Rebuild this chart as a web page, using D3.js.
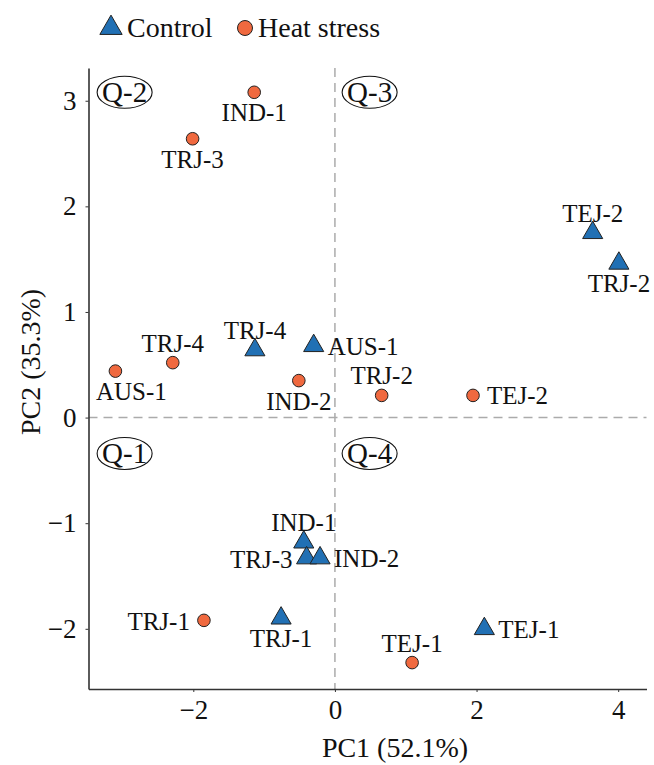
<!DOCTYPE html>
<html>
<head>
<meta charset="utf-8">
<script src="https://cdn.jsdelivr.net/npm/d3@7"></script>
<style>
  body { margin: 0; background: #fff; }
  text { font-family: "Liberation Serif", "Times New Roman", serif; fill: #111; }
</style>
</head>
<body>
<div id="chart"></div>
<script>
// PCA scores
var groups = ["Control", "Heat stress"];

var controlNames = ["TEJ-2", "TRJ-2", "TRJ-4", "AUS-1", "IND-1", "TRJ-3", "IND-2", "TRJ-1", "TEJ-1"];
var controlPC1 = [3.64, 4.01, -1.13, -0.30, -0.44, -0.40, -0.21, -0.76, 2.11];
var controlPC2 = [1.75, 1.46, 0.64, 0.68, -1.18, -1.33, -1.33, -1.90, -2.00];
var controlLabelPos = ["above", "below", "above", "right", "above", "left", "right", "below", "right"];

var heatNames = ["IND-1", "TRJ-3", "TRJ-4", "AUS-1", "IND-2", "TRJ-2", "TEJ-2", "TRJ-1", "TEJ-1"];
var heatPC1 = [-1.14, -2.01, -2.29, -3.10, -0.51, 0.66, 1.95, -1.85, 1.09];
var heatPC2 = [3.08, 2.64, 0.52, 0.44, 0.35, 0.21, 0.21, -1.92, -2.32];
var heatLabelPos = ["below", "below", "above", "below-right", "below", "above", "right", "left", "above"];

// quadrant tags (data coordinates)
var quadNames = ["Q-1", "Q-2", "Q-3", "Q-4"];
var quadPC1 = [-2.97, -2.97, 0.49, 0.49];
var quadPC2 = [-0.34, 3.08, 3.08, -0.34];

var xTicks = [-2, 0, 2, 4];
var yTicks = [-2, -1, 0, 1, 2, 3];
var xTitle = "PC1 (52.1%)";
var yTitle = "PC2 (35.3%)";

var config = {
    colors: { control: "#2170b4", heat: "#f0693f", axis: "#333333", zero: "#ababab" },
    width: 654,
    height: 765,
    plot: { left: 88.5, right: 646.5, top: 68, bottom: 689 },
    labelSize: 25,
    tickSize: 27,
    titleSize: 28
};

function zip(names, xs, ys, pos) {
    return names.map(function (n, i) {
        return { name: n, pc1: xs[i], pc2: ys[i], pos: pos[i] };
    });
}
var control = zip(controlNames, controlPC1, controlPC2, controlLabelPos);
var heat = zip(heatNames, heatPC1, heatPC2, heatLabelPos);

var svg = d3.select("#chart").append("svg")
    .attr("width", config.width)
    .attr("height", config.height);

var x = d3.scaleLinear().domain([-3.48, 4.40]).range([config.plot.left, config.plot.right]);
var y = d3.scaleLinear().domain([-2.57, 3.31]).range([config.plot.bottom, config.plot.top]);

// zero reference lines
svg.append("line")
    .attr("x1", config.plot.left).attr("x2", config.plot.right)
    .attr("y1", y(0)).attr("y2", y(0))
    .attr("stroke", config.colors.zero).attr("stroke-width", 1.5)
    .attr("stroke-dasharray", "9,6");
svg.append("line")
    .attr("x1", x(0)).attr("x2", x(0))
    .attr("y1", config.plot.top).attr("y2", config.plot.bottom)
    .attr("stroke", config.colors.zero).attr("stroke-width", 1.5)
    .attr("stroke-dasharray", "9,6");

// axes
var fmt = d3.format("d");
var xAxis = svg.append("g")
    .attr("transform", "translate(0," + config.plot.bottom + ")")
    .call(d3.axisBottom(x).tickValues(xTicks).tickFormat(fmt).tickSize(3).tickPadding(8).tickSizeOuter(0));
var yAxis = svg.append("g")
    .attr("transform", "translate(" + config.plot.left + ",0)")
    .call(d3.axisLeft(y).tickValues(yTicks).tickFormat(fmt).tickSize(3).tickPadding(9).tickSizeOuter(0));

[xAxis, yAxis].forEach(function (g) {
    g.select(".domain").attr("stroke", config.colors.axis).attr("stroke-width", 1.6);
    g.selectAll(".tick line").attr("stroke", config.colors.axis);
    g.selectAll(".tick text")
        .attr("font-family", "Liberation Serif")
        .attr("font-size", config.tickSize)
        .attr("fill", "#111");
});

// axis titles
svg.append("text")
    .attr("x", 395).attr("y", 757)
    .attr("text-anchor", "middle")
    .attr("font-size", config.titleSize)
    .text(xTitle);
svg.append("text")
    .attr("transform", "translate(40,362) rotate(-90)")
    .attr("text-anchor", "middle")
    .attr("font-size", config.titleSize)
    .text(yTitle);

// quadrant tags
var quads = svg.selectAll(".quad")
    .data(quadNames.map(function (n, i) { return { name: n, pc1: quadPC1[i], pc2: quadPC2[i] }; }))
    .enter().append("g")
    .attr("transform", function (d) { return "translate(" + x(d.pc1) + "," + y(d.pc2) + ")"; });
quads.append("ellipse")
    .attr("rx", 27.5).attr("ry", 16)
    .attr("fill", "none").attr("stroke", "#111").attr("stroke-width", 1.1);
quads.append("text")
    .attr("text-anchor", "middle").attr("dy", "0.34em")
    .attr("font-size", 29)
    .text(function (d) { return d.name; });

// points
var tri = d3.symbol().type(d3.symbolTriangle).size(175);

svg.selectAll(".heat")
    .data(heat).enter().append("circle")
    .attr("cx", function (d) { return x(d.pc1); })
    .attr("cy", function (d) { return y(d.pc2); })
    .attr("r", 6.3)
    .attr("fill", config.colors.heat)
    .attr("stroke", "#222").attr("stroke-width", 1);

svg.selectAll(".control")
    .data(control).enter().append("path")
    .attr("d", tri)
    .attr("transform", function (d) { return "translate(" + x(d.pc1) + "," + y(d.pc2) + ")"; })
    .attr("fill", config.colors.control)
    .attr("stroke", "#222").attr("stroke-width", 1);

// labels
var offsets = {
    "above": { dx: 0, dy: -11, anchor: "middle" },
    "below": { dx: 0, dy: 29, anchor: "middle" },
    "below-right": { dx: 16, dy: 29, anchor: "middle" },
    "right": { dx: 14, dy: 9, anchor: "start" },
    "left": { dx: -14, dy: 10, anchor: "end" }
};

svg.selectAll(".lbl")
    .data(control.concat(heat)).enter().append("text")
    .attr("x", function (d) { return x(d.pc1) + offsets[d.pos].dx; })
    .attr("y", function (d) { return y(d.pc2) + offsets[d.pos].dy; })
    .attr("text-anchor", function (d) { return offsets[d.pos].anchor; })
    .attr("font-size", config.labelSize)
    .text(function (d) { return d.name; });

// legend
var legend = svg.append("g");
legend.append("path")
    .attr("d", d3.symbol().type(d3.symbolTriangle).size(215))
    .attr("transform", "translate(111,28)")
    .attr("fill", config.colors.control)
    .attr("stroke", "#222").attr("stroke-width", 1);
legend.append("text")
    .attr("x", 127).attr("y", 37)
    .attr("font-size", config.titleSize)
    .text(groups[0]);
legend.append("circle")
    .attr("cx", 245).attr("cy", 28).attr("r", 7.5)
    .attr("fill", config.colors.heat)
    .attr("stroke", "#222").attr("stroke-width", 1);
legend.append("text")
    .attr("x", 258).attr("y", 37)
    .attr("font-size", config.titleSize)
    .text(groups[1]);
</script>
</body>
</html>
